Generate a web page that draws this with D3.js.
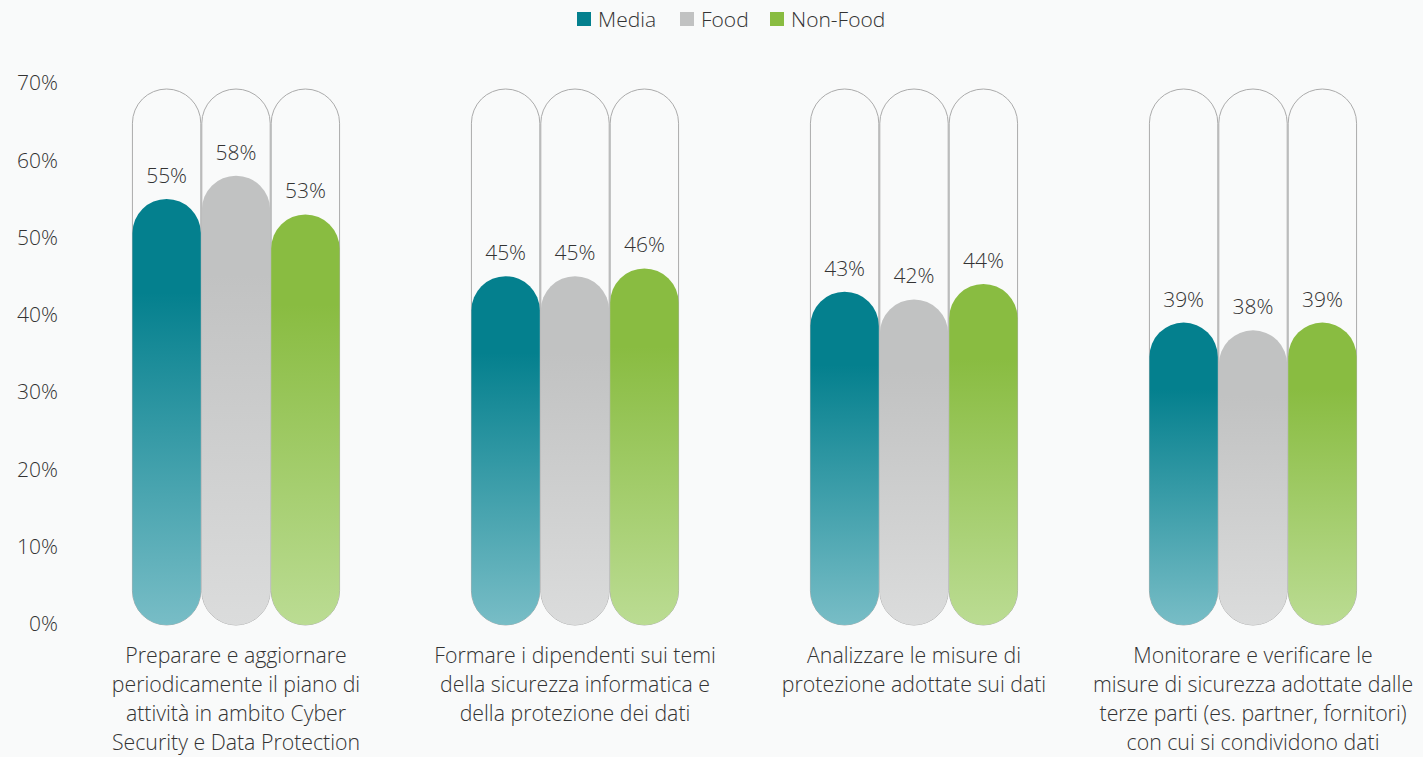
<!DOCTYPE html>
<html>
<head>
<meta charset="utf-8">
<script src="https://cdn.jsdelivr.net/npm/d3@7"></script>
<style>
  html, body { margin: 0; padding: 0; background: #fafafa; }
  svg { display: block; font-family: "Open Sans", "Noto Sans", sans-serif; font-weight: 300; }
</style>
</head>
<body>
<svg id="chart" width="1423" height="757"></svg>
<script>
// Survey actions (each wrapped across the lines shown under its group)
const categoryLines = [
  ["Preparare e aggiornare", "periodicamente il piano di", "attività in ambito Cyber", "Security e Data Protection"],
  ["Formare i dipendenti sui temi", "della sicurezza informatica e", "della protezione dei dati"],
  ["Analizzare le misure di", "protezione adottate sui dati"],
  ["Monitorare e verificare le", "misure di sicurezza adottate dalle", "terze parti (es. partner, fornitori)", "con cui si condividono dati"]
];
const categories = categoryLines.map(l => l.join(" "));

const seriesNames = ["Media", "Food", "Non-Food"];
const mediaValues   = [0.55, 0.45, 0.43, 0.39];
const foodValues    = [0.58, 0.45, 0.42, 0.38];
const nonFoodValues = [0.53, 0.46, 0.44, 0.39];

const yTicks = [0, 0.1, 0.2, 0.3, 0.4, 0.5, 0.6, 0.7];

const palette = {
  "Media":    { dark: "#04808e", light: "#78bdc6" },
  "Food":     { dark: "#c1c2c2", light: "#dbdcdc" },
  "Non-Food": { dark: "#89bc41", light: "#bbdc93" }
};

const seriesValues = { "Media": mediaValues, "Food": foodValues, "Non-Food": nonFoodValues };

const svg = d3.select("#chart");
const W = 1423, H = 757;
const FS = 21;
const FS_CAT = 21.3;
const TXT = "#333333";

// soft backdrop
svg.append("rect").attr("width", W).attr("height", H).attr("fill", "#f9fafa");

const defs = svg.append("defs");
seriesNames.forEach((s, i) => {
  const g = defs.append("linearGradient")
    .attr("id", "grad" + i)
    .attr("x1", 0).attr("y1", 0).attr("x2", 0).attr("y2", 1);
  g.append("stop").attr("offset", "0%").attr("stop-color", palette[s].dark);
  g.append("stop").attr("offset", "22%").attr("stop-color", palette[s].dark);
  g.append("stop").attr("offset", "100%").attr("stop-color", palette[s].light);
});

const x0 = d3.scaleBand()
  .domain(categories)
  .range([66.5, 1422.5])
  .paddingInner(0.386)
  .paddingOuter(0.193);

const x1 = d3.scaleBand()
  .domain(seriesNames)
  .range([0, x0.bandwidth()])
  .padding(0);

const y = d3.scaleLinear().domain([0, 0.7]).range([624, 83]);

const fmt = d3.format(".0%");

// Y axis labels
const yAxis = d3.axisLeft(y).tickValues(yTicks).tickFormat(fmt).tickSize(0).tickPadding(0);
const yg = svg.append("g").attr("transform", "translate(58,0)").call(yAxis);
yg.select(".domain").remove();
yg.selectAll("text")
  .attr("font-size", FS)
  .attr("font-family", "'Open Sans', sans-serif")
  .attr("font-weight", 300)
  .attr("fill", TXT);

// pill path from top to bottom, width w
function pill(x, top, bottom, w) {
  const r = w / 2;
  return `M${x},${top + r}` +
    `A${r},${r} 0 0 1 ${x + w},${top + r}` +
    `L${x + w},${bottom - r}` +
    `A${r},${r} 0 0 1 ${x},${bottom - r}Z`;
}

const groups = svg.append("g").selectAll("g.grp")
  .data(categories)
  .join("g")
  .attr("class", "grp")
  .attr("transform", d => `translate(${x0(d)},0)`);

const bw = x1.bandwidth();
const trackTop = y(0.7) + 6;
const trackBottom = y(0) + 1;

// outline tracks
groups.selectAll("path.track")
  .data(seriesNames)
  .join("path")
  .attr("class", "track")
  .attr("d", s => pill(x1(s) + 0.5, trackTop, trackBottom, bw - 1))
  .attr("fill", "none")
  .attr("stroke", "#ababab")
  .attr("stroke-width", 1);

// filled bars
groups.selectAll("path.bar")
  .data((c, ci) => seriesNames.map((s, si) => ({ s, si, v: seriesValues[s][ci] })))
  .join("path")
  .attr("class", "bar")
  .attr("d", d => pill(x1(d.s) + 0.5, y(d.v), trackBottom, bw - 1))
  .attr("fill", d => `url(#grad${d.si})`);

// value labels
groups.selectAll("text.val")
  .data((c, ci) => seriesNames.map(s => ({ s, v: seriesValues[s][ci] })))
  .join("text")
  .attr("class", "val")
  .attr("x", d => x1(d.s) + bw / 2)
  .attr("y", d => y(d.v) - 16)
  .attr("text-anchor", "middle")
  .attr("font-size", FS)
  .attr("fill", TXT)
  .text(d => fmt(d.v));

// category labels
groups.append("text")
  .attr("text-anchor", "middle")
  .attr("font-size", FS_CAT)
  .attr("fill", TXT)
  .selectAll("tspan")
  .data((c, i) => categoryLines[i])
  .join("tspan")
  .attr("x", x0.bandwidth() / 2)
  .attr("y", (d, i) => 662.5 + i * 29.3)
  .text(d => d);

// legend
const legend = svg.append("g").attr("transform", "translate(577,0)");
const legendX = [0, 103, 193];
seriesNames.forEach((s, i) => {
  const g = legend.append("g").attr("transform", `translate(${legendX[i]},0)`);
  g.append("rect").attr("x", 0).attr("y", 12).attr("width", 14).attr("height", 14)
    .attr("fill", palette[s].dark);
  g.append("text").attr("x", 21).attr("y", 26.5)
    .attr("font-size", FS).attr("fill", TXT).text(s);
});
</script>
</body>
</html>
